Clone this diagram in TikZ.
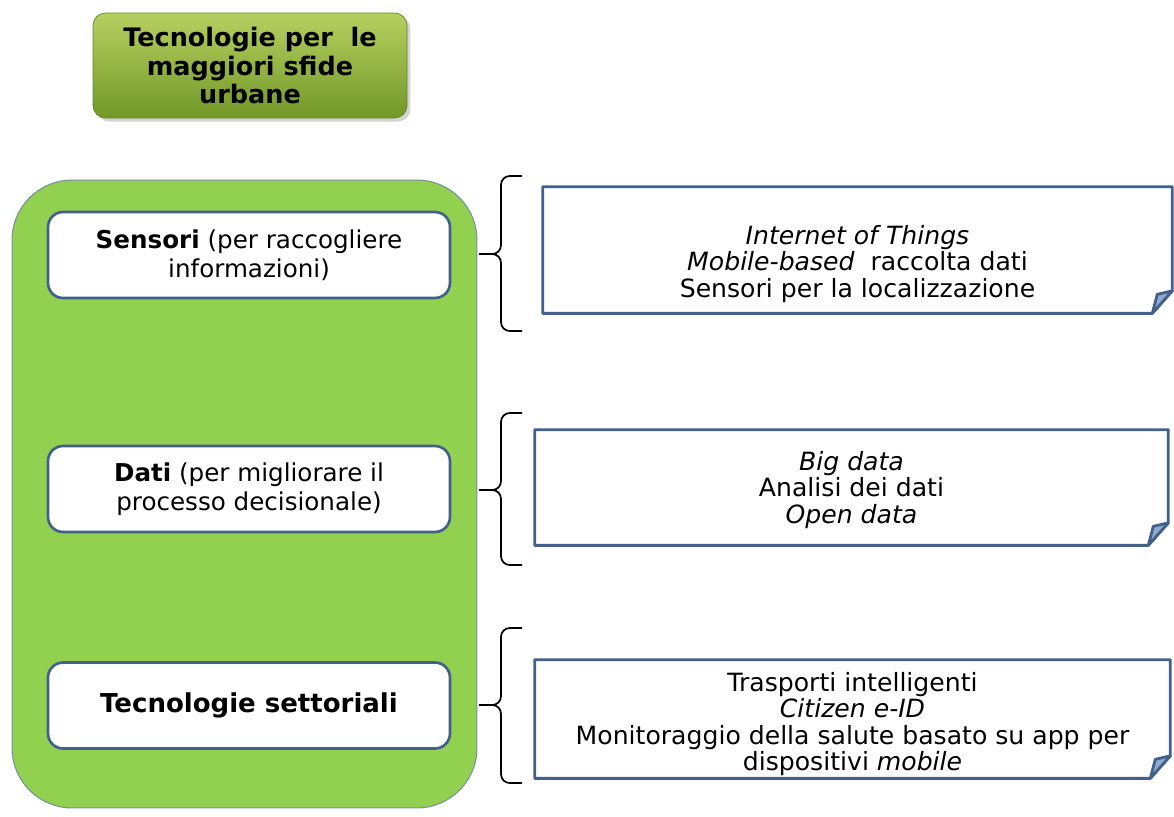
\documentclass[tikz,border=0pt]{standalone}
\usepackage{fontspec}
\setmainfont{DejaVu Sans}
\usetikzlibrary{shadows}

\definecolor{panelgreen}{RGB}{146,208,80}
\definecolor{paneledge}{RGB}{118,146,160}
\definecolor{titletop}{RGB}{182,208,96}
\definecolor{titlebottom}{RGB}{114,152,40}
\definecolor{boxblue}{RGB}{66,96,140}
\definecolor{foldblue}{RGB}{146,170,208}

\tikzset{
  panel/.style={draw=paneledge,line width=0.6pt,fill=panelgreen,rounded corners=1.2cm},
  titlebox/.style={rounded corners=0.25cm,top color=titletop,bottom color=titlebottom,
    draw=titlebottom!85!black,line width=0.4pt,
    drop shadow={shadow xshift=2pt,shadow yshift=-2pt,opacity=0.35},
    align=center,font=\bfseries\fontsize{14.5}{16}\selectfont},
  leftbox/.style={draw=boxblue,line width=1.5pt,fill=white,rounded corners=0.3cm,
    minimum width=8.04cm,minimum height=1.72cm,align=center,
    font=\fontsize{14}{16.4}\selectfont},
  notebox/.style={minimum width=#1,inner sep=0pt},
  notetext/.style={align=center,font=\fontsize{14.3}{14.9}\selectfont},
  noteline/.style={draw=boxblue,line width=1.6pt,line join=round},
  bracket/.style={line width=1pt,rounded corners=5pt}
}

% bordo con angolo piegato
\newcommand{\foldbox}[1]{%
  \draw[noteline] (#1.north west) -- (#1.north east) -- ([yshift=0.45cm]#1.south east)
    -- ([xshift=-0.4cm]#1.south east) -- (#1.south west) -- cycle;
  \filldraw[noteline,fill=foldblue] ([yshift=0.45cm]#1.south east)
    -- ([xshift=-0.4cm]#1.south east) -- ([xshift=-0.3cm,yshift=0.38cm]#1.south east) -- cycle;}

\begin{document}
\begin{tikzpicture}[x=0.02cm,y=-0.02cm]
  \useasboundingbox (0,0) rectangle (1174,816);

  \node[titlebox,minimum width=6.28cm,minimum height=2.1cm] (title) at (250,65.5)
    {Tecnologie per~ le\\maggiori sfide\\urbane};

  \node[panel,minimum width=9.3cm,minimum height=12.56cm] (panel) at (244.5,494) {};

  \node[leftbox] (sensori) at (249,255) {\textbf{Sensori} (per raccogliere\\informazioni)};
  \node[leftbox] (dati) at (249,489) {\textbf{Dati} (per migliorare il\\processo decisionale)};
  \node[leftbox,font=\bfseries\fontsize{14.8}{17}\selectfont] (settori) at (249,705.5)
    {Tecnologie settoriali};

  % parentesi
  \coordinate (senstop) at (522,176);
  \coordinate (sensbot) at (522,331);
  \coordinate (senstip) at (479,254);
  \coordinate (datitop) at (522,413);
  \coordinate (datibot) at (522,565);
  \coordinate (datitip) at (479,490);
  \coordinate (settop) at (522,628);
  \coordinate (setbot) at (522,783);
  \coordinate (settip) at (479,705);
  \foreach \s in {sens,dati,set} {
    \draw[bracket] (\s top) -| ([xshift=0.44cm]\s tip) -- (\s tip);
    \draw[bracket] (\s bot) -| ([xshift=0.44cm]\s tip) -- (\s tip);
  }

  % riquadri a destra
  \node[notebox=12.58cm,minimum height=2.52cm] (iot) at (857.5,250) {};
  \foldbox{iot}
  \node[notetext] (iottext) at (857.5,264)
    {\textit{Internet of Things}\\\textit{Mobile-based}\ \ raccolta dati\\Sensori per la localizzazione};

  \node[notebox=12.66cm,minimum height=2.3cm] (bigdata) at (851.5,487.5) {};
  \foldbox{bigdata}
  \node[notetext] (bigdatatext) at (851.5,490)
    {\textit{Big data}\\Analisi dei dati\\\textit{Open data}};

  \node[notebox=12.7cm,minimum height=2.36cm] (smart) at (852.5,719) {};
  \foldbox{smart}
  \node[notetext] (smarttext) at (852.5,724)
    {Trasporti intelligenti\\\textit{Citizen e-ID}\\Monitoraggio della salute basato su app per\\dispositivi \textit{mobile}};
\end{tikzpicture}
\end{document}
